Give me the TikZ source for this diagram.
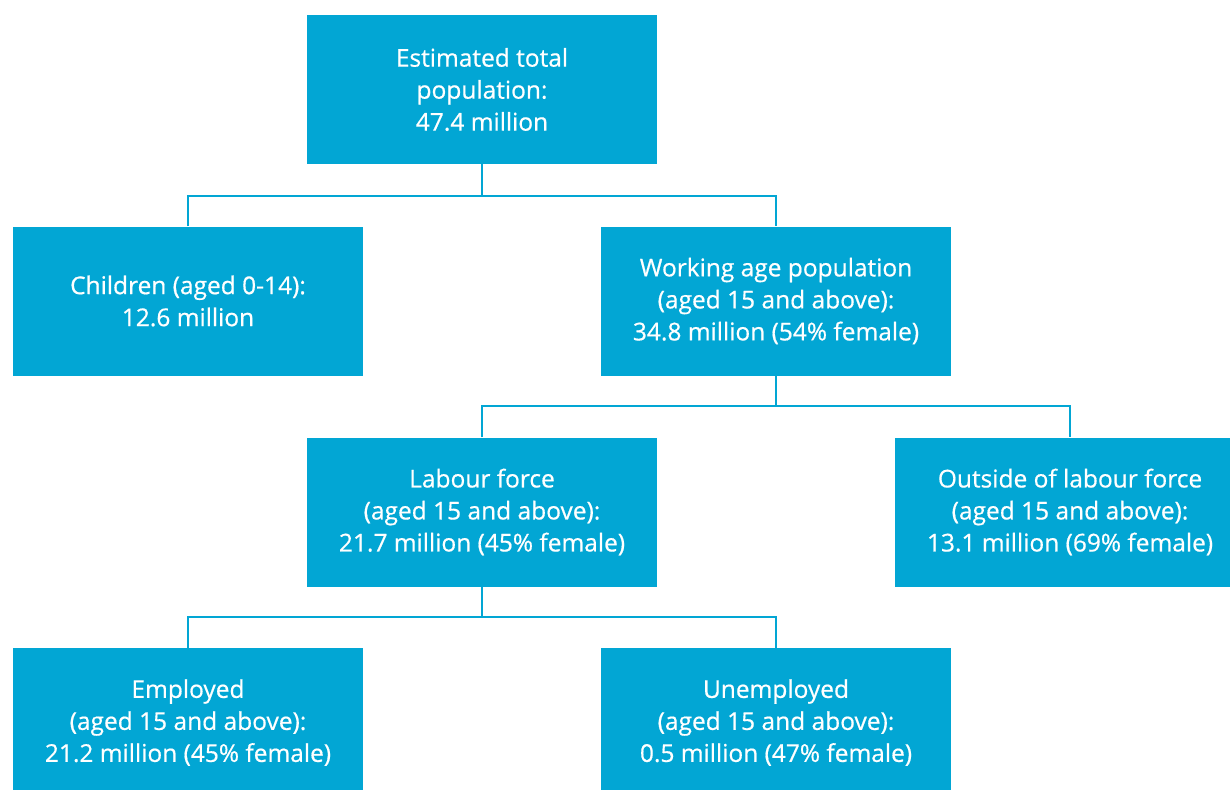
\documentclass[tikz,border=0pt]{standalone}
\usepackage{fontspec}
\setmainfont{Open Sans}
\usepackage{xcolor}
\definecolor{boxblue}{RGB}{2,166,212}

\tikzset{
  popbox/.style={fill=boxblue, text=white, minimum width=350pt, minimum height=149pt,
    align=center, inner sep=0pt,
    font=\fontsize{24.5pt}{32pt}\selectfont\addfontfeature{FakeBold=0.6}},
  link/.style={draw=boxblue, line width=2pt}
}

\begin{document}
\begin{tikzpicture}[x=1pt, y=-1pt]

% Frame
\useasboundingbox (0,0) rectangle (1230,789);
\clip (0,0) rectangle (1230,789);

% Boxes
\node[popbox] (total) at (482,89.5) {Estimated total\\population:\\47.4 million};
\node[popbox] (children) at (188,301) {Children (aged 0-14):\\12.6 million};
\node[popbox] (working) at (776,301) {Working age population\\(aged 15 and above):\\34.8 million (54\% female)};
\node[popbox] (labour) at (482,512) {Labour force\\(aged 15 and above):\\21.7 million (45\% female)};
\node[popbox] (outside) at (1070,512) {Outside of labour force\\(aged 15 and above):\\13.1 million (69\% female)};
\node[popbox] (employed) at (188,722.5) {Employed\\(aged 15 and above):\\21.2 million (45\% female)};
\node[popbox] (unemployed) at (776,722.5) {Unemployed\\(aged 15 and above):\\0.5 million (47\% female)};

% Junctions
\coordinate (j1) at (482,196);
\coordinate (j2) at (776,406);
\coordinate (j3) at (482,617);

% Connectors
\draw[link] (total.south) -- (j1);
\draw[link] (children.north) |- (j1) -| (working.north);
\draw[link] (working.south) -- (j2);
\draw[link] (labour.north) |- (j2) -| (outside.north);
\draw[link] (labour.south) -- (j3);
\draw[link] (employed.north) |- (j3) -| (unemployed.north);

\end{tikzpicture}
\end{document}
